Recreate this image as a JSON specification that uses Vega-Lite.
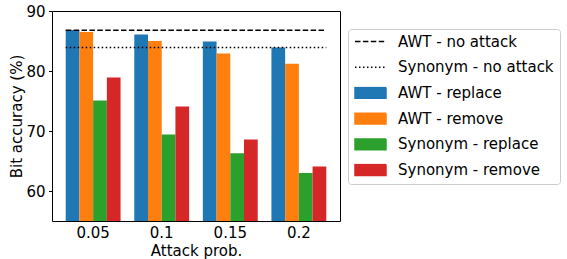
{
  "$schema": "https://vega.github.io/schema/vega-lite/v6.json",
  "width": 288,
  "height": 210,
  "autosize": {"type": "none"},
  "padding": {"left": 52, "top": 11, "right": 227, "bottom": 38},
  "background": "white",
  "config": {
    "font": "DejaVu Sans",
    "view": {"stroke": "black", "strokeWidth": 1},
    "axis": {
      "labelFont": "DejaVu Sans", "labelFontSize": 15, "labelColor": "black",
      "titleFont": "DejaVu Sans", "titleFontSize": 15, "titleFontWeight": "normal", "titleColor": "black",
      "grid": false, "domain": false, "tickColor": "black", "tickSize": 3.5, "tickWidth": 1
    },
    "legend": {
      "orient": "none", "legendX": 296, "legendY": 18,
      "labelFont": "DejaVu Sans", "labelFontSize": 15, "labelColor": "black", "labelLimit": 300,
      "symbolSize": 961, "symbolStrokeWidth": 1.5, "clipHeight": 13, "rowPadding": 9.7,
      "labelOffset": 11, "padding": 6, "strokeColor": "#cccccc", "fillColor": "white",
      "cornerRadius": 3, "symbolOpacity": 1
    }
  },
  "datasets": {
    "bars": [
      {"prob": "0.05", "series": "AWT - replace", "value": 86.85},
      {"prob": "0.05", "series": "AWT - remove", "value": 86.5},
      {"prob": "0.05", "series": "Synonym - replace", "value": 75.1},
      {"prob": "0.05", "series": "Synonym - remove", "value": 78.9},
      {"prob": "0.1", "series": "AWT - replace", "value": 86.1},
      {"prob": "0.1", "series": "AWT - remove", "value": 85.0},
      {"prob": "0.1", "series": "Synonym - replace", "value": 69.4},
      {"prob": "0.1", "series": "Synonym - remove", "value": 74.1},
      {"prob": "0.15", "series": "AWT - replace", "value": 84.9},
      {"prob": "0.15", "series": "AWT - remove", "value": 82.9},
      {"prob": "0.15", "series": "Synonym - replace", "value": 66.3},
      {"prob": "0.15", "series": "Synonym - remove", "value": 68.6},
      {"prob": "0.2", "series": "AWT - replace", "value": 83.9},
      {"prob": "0.2", "series": "AWT - remove", "value": 81.2},
      {"prob": "0.2", "series": "Synonym - replace", "value": 63.0},
      {"prob": "0.2", "series": "Synonym - remove", "value": 64.1}
    ],
    "lines": [
      {"prob": "0.05", "prob2": "0.2", "series": "AWT - no attack", "value": 86.8},
      {"prob": "0.05", "prob2": "0.2", "series": "Synonym - no attack", "value": 83.9}
    ]
  },
  "layer": [
    {
      "data": {"name": "bars"},
      "mark": {"type": "bar", "clip": true},
      "encoding": {
        "x": {
          "field": "prob", "type": "nominal",
          "scale": {"domain": ["0.05", "0.1", "0.15", "0.2"], "paddingInner": 0.2, "paddingOuter": 0.2},
          "axis": {"title": "Attack prob.", "labelAngle": 0, "ticks": false, "labelPadding": 4, "labelDx": 6, "titlePadding": 3}
        },
        "xOffset": {
          "field": "series", "type": "nominal",
          "scale": {"domain": ["AWT - replace", "AWT - remove", "Synonym - replace", "Synonym - remove"], "paddingInner": 0, "paddingOuter": 0}
        },
        "y": {
          "field": "value", "type": "quantitative",
          "scale": {"domain": [55, 90], "nice": false, "zero": false},
          "axis": {"title": "Bit accuracy (%)", "values": [60, 70, 80, 90], "labelPadding": 3.5, "titlePadding": 1}
        },
        "color": {
          "field": "series", "type": "nominal",
          "scale": {
            "domain": ["AWT - no attack", "Synonym - no attack", "AWT - replace", "AWT - remove", "Synonym - replace", "Synonym - remove"],
            "range": ["black", "black", "#1f77b4", "#ff7f0e", "#2ca02c", "#d62728"]
          },
          "legend": {
            "title": null,
            "encode": {
              "symbols": {
                "update": {
                  "shape": {"signal": "(datum.label == 'AWT - no attack' || datum.label == 'Synonym - no attack') ? 'stroke' : 'M-1,-0.35H1V0.35H-1Z'"},
                  "strokeDash": {"signal": "datum.label == 'AWT - no attack' ? [5.5, 2.4] : (datum.label == 'Synonym - no attack' ? [1.5, 2.5] : [1, 0])"},
                  "fill": {"signal": "(datum.label == 'AWT - no attack' || datum.label == 'Synonym - no attack') ? 'transparent' : scale('color', datum.value)"},
                  "stroke": {"signal": "(datum.label == 'AWT - no attack' || datum.label == 'Synonym - no attack') ? 'black' : 'transparent'"},
                  "strokeWidth": {"value": 1.5},
                  "opacity": {"value": 1}
                }
              }
            }
          }
        }
      }
    },
    {
      "data": {"name": "lines"},
      "mark": {"type": "rule", "strokeWidth": 1.5},
      "encoding": {
        "x": {"field": "prob", "type": "nominal", "bandPosition": 0, "scale": {"domain": ["0.05", "0.1", "0.15", "0.2"]}, "axis": {"title": "Attack prob."}},
        "x2": {"field": "prob2", "bandPosition": 1},
        "y": {"field": "value", "type": "quantitative", "axis": {"title": "Bit accuracy (%)"}},
        "color": {"field": "series", "type": "nominal"},
        "strokeDash": {
          "field": "series", "type": "nominal",
          "scale": {"domain": ["AWT - no attack", "Synonym - no attack"], "range": [[5.5, 2.4], [1.5, 2.5]]},
          "legend": null
        }
      }
    }
  ]
}
